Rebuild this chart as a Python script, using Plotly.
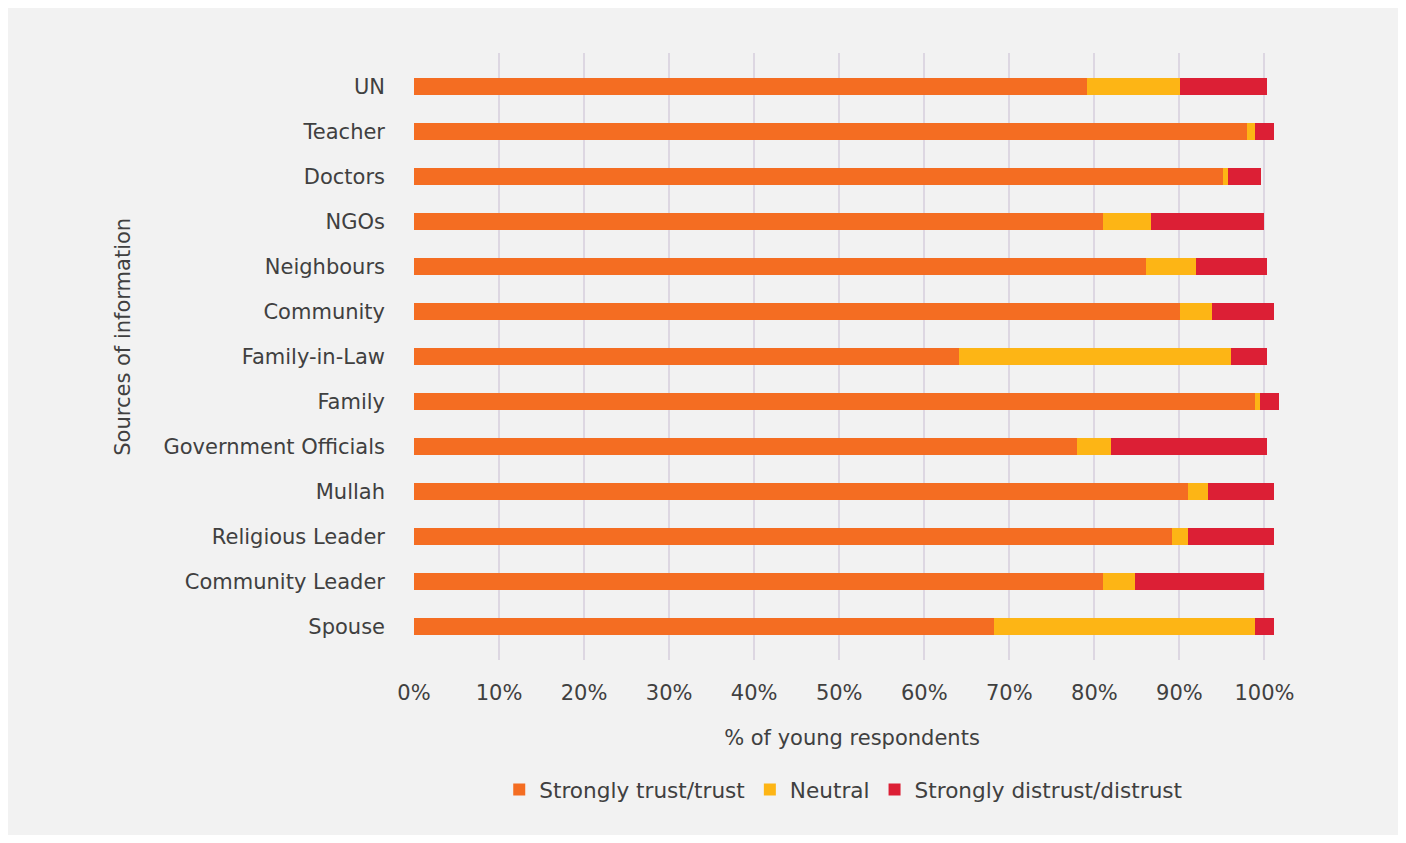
import plotly.graph_objects as go

categories = ["UN", "Teacher", "Doctors", "NGOs", "Neighbours", "Community",
              "Family-in-Law", "Family", "Government Officials", "Mullah",
              "Religious Leader", "Community Leader", "Spouse"]
trust = [79.1, 97.9, 95.1, 81.0, 86.1, 90.1, 64.1, 98.9, 77.9, 91.0, 89.1, 81.0, 68.2]
neutral = [11.0, 1.0, 0.6, 5.7, 5.9, 3.7, 32.0, 0.6, 4.1, 2.3, 1.9, 3.8, 30.7]
distrust = [10.2, 2.2, 3.9, 13.2, 8.3, 7.3, 4.2, 2.2, 18.3, 7.8, 10.1, 15.1, 2.2]
series_names = ["Strongly trust/trust", "Neutral", "Strongly distrust/distrust"]
colors = ["#F46D22", "#FDB515", "#DC1F35"]
tick_vals = [0, 10, 20, 30, 40, 50, 60, 70, 80, 90, 100]
tick_text = [f"{v}%" for v in tick_vals]

FONT = "DejaVu Sans"
TXT = "#404040"
FS = 21

fig = go.Figure()
for name, vals, col in zip(series_names, [trust, neutral, distrust], colors):
    fig.add_trace(go.Bar(
        y=categories, x=vals, name=name, orientation="h",
        marker=dict(color=col, line=dict(width=0)),
        width=0.38,
    ))

fig.update_layout(
    barmode="stack",
    width=1390, height=827,
    margin=dict(l=405.5, r=108, t=45, b=175),
    paper_bgcolor="#F2F2F2", plot_bgcolor="#F2F2F2",
    font=dict(family=FONT, size=FS, color=TXT),
    showlegend=True,
    legend=dict(orientation="h", x=0.49, xanchor="center", y=-0.214, yanchor="middle",
                font=dict(family=FONT, size=21.6, color=TXT), traceorder="normal",
                itemwidth=30, bgcolor="rgba(0,0,0,0)"),
    bargap=0.6,
    annotations=[dict(
        text="Sources of information", textangle=-90,
        xref="paper", yref="paper", x=-0.3326, y=0.532,
        xanchor="center", yanchor="middle", showarrow=False,
        font=dict(family=FONT, size=FS, color=TXT),
    )],
)
fig.update_xaxes(
    range=[0, 103], tickvals=tick_vals, ticktext=tick_text,
    showgrid=True, gridcolor="#DDD7E2", gridwidth=2,
    zeroline=False, showline=False, ticks="",
    ticklabelstandoff=18,
    title=dict(text="% of young respondents", standoff=26, font=dict(family=FONT, size=FS, color=TXT)),
    tickfont=dict(family=FONT, size=FS, color=TXT),
)
fig.update_yaxes(
    categoryorder="array", categoryarray=categories,
    range=[12.75, -0.75], autorange=False,
    showgrid=False, zeroline=False, showline=False, ticks="",
    ticklabelstandoff=28,
    tickfont=dict(family=FONT, size=FS, color=TXT),
)

fig.write_html("out.html")
